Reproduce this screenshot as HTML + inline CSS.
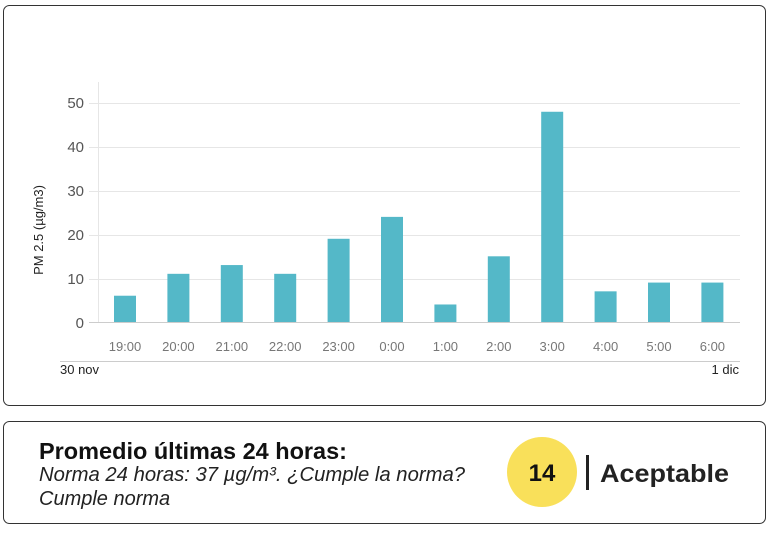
<!DOCTYPE html>
<html><head><meta charset="utf-8"><style>
body{margin:0;background:#fff;width:780px;height:539px;overflow:hidden}
svg{display:block;font-family:"Liberation Sans",sans-serif}
</style></head><body>
<svg width="780" height="539" viewBox="0 0 780 539">
<rect x="3.5" y="5.5" width="762" height="400" rx="6" fill="#fff" stroke="#333" stroke-width="1"/>
<rect x="3.5" y="421.5" width="762" height="102" rx="6" fill="#fff" stroke="#333" stroke-width="1"/>
<g stroke="#e6e6e6" stroke-width="1">
<line x1="89" y1="103.5" x2="740" y2="103.5"/>
<line x1="89" y1="147.5" x2="740" y2="147.5"/>
<line x1="89" y1="191.5" x2="740" y2="191.5"/>
<line x1="89" y1="235.5" x2="740" y2="235.5"/>
<line x1="89" y1="279.5" x2="740" y2="279.5"/>
<line x1="98.5" y1="82" x2="98.5" y2="322"/>
</g>
<line x1="89" y1="322.5" x2="740" y2="322.5" stroke="#ccc"/>
<line x1="60" y1="361.5" x2="740" y2="361.5" stroke="#ccc"/>
<g fill="#555" font-size="15" text-anchor="end">
<text x="84" y="108">50</text><text x="84" y="152">40</text><text x="84" y="196">30</text>
<text x="84" y="240">20</text><text x="84" y="284">10</text><text x="84" y="328">0</text>
</g>
<text transform="translate(43,230) rotate(-90)" font-size="13" fill="#222" text-anchor="middle">PM 2.5 (µg/m3)</text>
<g fill="#54b8c8" id="bars"></g>
<g fill="#777" font-size="13" text-anchor="middle" id="lbl"></g>
<text x="60" y="374" font-size="13" fill="#222">30 nov</text>
<text x="739" y="374" font-size="13" fill="#222" text-anchor="end">1 dic</text>
<text x="39" y="459" font-size="23" font-weight="bold" fill="#111" textLength="308" lengthAdjust="spacingAndGlyphs">Promedio últimas 24 horas:</text>
<text x="39" y="481" font-size="20" font-style="italic" fill="#222" textLength="426" lengthAdjust="spacingAndGlyphs">Norma 24 horas: 37 µg/m³. ¿Cumple la norma?</text>
<text x="39" y="505" font-size="20" font-style="italic" fill="#222">Cumple norma</text>
<circle cx="542" cy="472" r="35" fill="#f9e05a"/>
<text x="542" y="481" font-size="24" font-weight="bold" text-anchor="middle" fill="#111">14</text>
<rect x="586" y="455" width="3" height="35" fill="#222"/>
<text x="600" y="482" font-size="25" font-weight="bold" fill="#222" textLength="129" lengthAdjust="spacingAndGlyphs">Aceptable</text>
</svg>
<script>
var v=[6,11,13,11,19,24,4,15,48,7,9,9],l=["19:00","20:00","21:00","22:00","23:00","0:00","1:00","2:00","3:00","4:00","5:00","6:00"];
var b=document.getElementById("bars"),t=document.getElementById("lbl"),ns="http://www.w3.org/2000/svg";
v.forEach(function(x,i){var c=125+i*53.4,h=x*4.38;
var r=document.createElementNS(ns,"rect");r.setAttribute("x",c-11);r.setAttribute("y",322-h);r.setAttribute("width",22);r.setAttribute("height",h);b.appendChild(r);
var s=document.createElementNS(ns,"text");s.setAttribute("x",c);s.setAttribute("y",351);s.textContent=l[i];t.appendChild(s);});
</script>
</body></html>
